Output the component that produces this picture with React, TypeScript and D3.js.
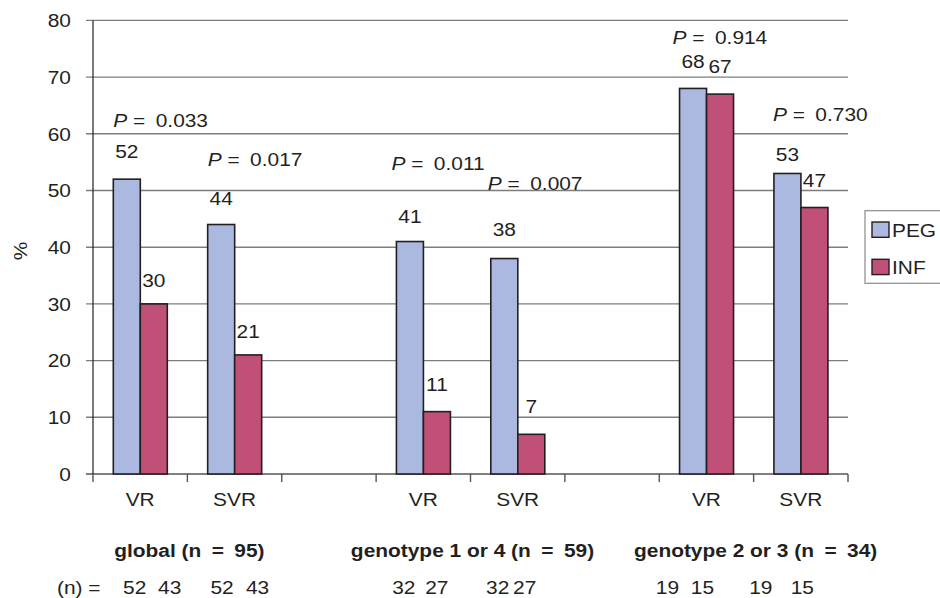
import React from "react";
import * as d3 from "d3";

// ---- data ----
const slots = ["gVR", "gSVR", "gap1", "g14VR", "g14SVR", "gap2", "g23VR", "g23SVR"];
const barSlots = ["gVR", "gSVR", "g14VR", "g14SVR", "g23VR", "g23SVR"];
const slotLabels = ["VR", "SVR", "", "VR", "SVR", "", "VR", "SVR"];
const pegValues = [52, 44, 41, 38, 68, 53];
const infValues = [30, 21, 11, 7, 67, 47];
const pValues = ["0.033", "0.017", "0.011", "0.007", "0.914", "0.730"];
const pLabelLevel = [61.2, 54.4, 53.7, 50.1, 75.9, 62.2];
const groupLabels = ["global (n\u2002=\u200295)", "genotype 1 or 4 (n\u2002=\u200259)", "genotype 2 or 3 (n\u2002=\u200234)"];
const groupSlots = [["gVR", "gSVR"], ["g14VR", "g14SVR"], ["g23VR", "g23SVR"]];
const pegN = [52, 52, 32, 32, 19, 19];
const infN = [43, 43, 27, 27, 15, 15];
const yTicks = [0, 10, 20, 30, 40, 50, 60, 70, 80];
const seriesNames = ["PEG", "INF"];

// ---- layout / style (not data) ----
const W = 940, H = 598;
const X0 = 93, X1 = 848, Y0 = 474, Y1 = 20.4;
const BAR_INSET = 20.3, BAR_W = 27;
const pegGap = [21, 20, 19, 23, 20.7, 12.3];
const infGap = [17, 17, 20.7, 21, 21, 21];
const pDx = [0, 0, -5, -3, -7, -1];
const nPegDx = [-5.5, -12.5, -19.5, -20, -39, -40];
const nInfDx = [29.5, 23, 13.5, 7, -4, 1.5];
const PEG_COLOR = "#abb8df";
const INF_COLOR = "#c05077";
const FONT = "'Liberation Sans', Arial, Helvetica, sans-serif";
const FS = 19;
const SX = 1.1;

function Txt({ x, y, anchor = "start", bold = false, children, size = FS }: any) {
  return (
    <text
      transform={`translate(${x},${y}) scale(${SX},1)`}
      textAnchor={anchor}
      fontFamily={FONT}
      fontSize={size}
      fontWeight={bold ? "bold" : "normal"}
      fill="#231f20"
      style={{ whiteSpace: "pre" }}
    >
      {children}
    </text>
  );
}

export default function App() {
  const x = d3.scaleBand<string>().domain(slots).range([X0, X1]).padding(0);
  const y = d3.scaleLinear().domain([0, 80]).range([Y0, Y1]);
  const bw = x.bandwidth();
  const boundaries = slots.map((s) => x(s) as number).concat([X1]);

  return (
    <svg width={W} height={H} style={{ position: "absolute", left: 0, top: 0, background: "#fff" }}>
      {/* gridlines */}
      {yTicks.map((t) => (
        <g key={t}>
          <line x1={86} x2={X1} y1={y(t)} y2={y(t)} stroke={t === 0 ? "#555" : "#7d7d7d"} strokeWidth={1.4} />
          <Txt x={71} y={y(t) + 6.8} anchor="end">{String(t)}</Txt>
        </g>
      ))}
      {/* y axis line */}
      <line x1={X0} x2={X0} y1={Y1} y2={Y0} stroke="#231f20" strokeWidth={1.2} />
      {/* x ticks */}
      {boundaries.map((b, i) => (
        <line key={i} x1={b} x2={b} y1={Y0} y2={Y0 + 8} stroke="#555" strokeWidth={1.4} />
      ))}
      {/* bars */}
      {barSlots.map((s, i) => {
        const sx = x(s) as number;
        return (
          <g key={s}>
            <rect x={sx + BAR_INSET} y={y(pegValues[i])} width={BAR_W} height={Y0 - y(pegValues[i])} fill={PEG_COLOR} stroke="#231f20" strokeWidth={1.6} />
            <rect x={sx + BAR_INSET + BAR_W} y={y(infValues[i])} width={BAR_W} height={Y0 - y(infValues[i])} fill={INF_COLOR} stroke="#231f20" strokeWidth={1.6} />
          </g>
        );
      })}
      {/* value labels */}
      {barSlots.map((s, i) => {
        const sx = x(s) as number;
        return (
          <g key={"v" + s}>
            <Txt x={sx + BAR_INSET + BAR_W / 2} y={y(pegValues[i]) - pegGap[i]} anchor="middle">{String(pegValues[i])}</Txt>
            <Txt x={sx + BAR_INSET + BAR_W * 1.5} y={y(infValues[i]) - infGap[i]} anchor="middle">{String(infValues[i])}</Txt>
          </g>
        );
      })}
      {/* P labels */}
      {barSlots.map((s, i) => {
        const sx = x(s) as number;
        return (
          <text
            key={"p" + s}
            transform={`translate(${sx + BAR_INSET + pDx[i]},${y(pLabelLevel[i])}) scale(${SX},1)`}
            fontFamily={FONT}
            fontSize={FS}
            fill="#231f20"
            style={{ whiteSpace: "pre" }}
          >
            <tspan fontStyle="italic">P</tspan>
            <tspan>{" =\u2002" + pValues[i]}</tspan>
          </text>
        );
      })}
      {/* category labels */}
      {slots.map((s, i) =>
        slotLabels[i] ? (
          <Txt key={"c" + s} x={(x(s) as number) + bw / 2} y={505.7} anchor="middle">{slotLabels[i]}</Txt>
        ) : null
      )}
      {/* group labels */}
      {groupLabels.map((g, i) => {
        const a = x(groupSlots[i][0]) as number;
        const b = (x(groupSlots[i][1]) as number) + bw;
        return (
          <Txt key={"g" + i} x={(a + b) / 2 + 2} y={556.7} anchor="middle" bold>{g}</Txt>
        );
      })}
      {/* n row */}
      <Txt x={57} y={594}>{"(n) ="}</Txt>
      {barSlots.map((s, i) => {
        const c = (x(s) as number) + bw / 2;
        return (
          <g key={"n" + s}>
            <Txt x={c + nPegDx[i]} y={594} anchor="middle">{String(pegN[i])}</Txt>
            <Txt x={c + nInfDx[i]} y={594} anchor="middle">{String(infN[i])}</Txt>
          </g>
        );
      })}
      {/* y axis title */}
      <text transform="translate(27,251) rotate(-90) scale(1.1,1)" textAnchor="middle" fontFamily={FONT} fontSize={FS} fill="#231f20">%</text>
      {/* legend */}
      <rect x={865} y={210.7} width={85} height={72.6} fill="#fff" stroke="#8a8a8a" strokeWidth={1.2} />
      {seriesNames.map((n, i) => (
        <g key={n}>
          <rect x={872} y={222 + i * 37.3} width={17} height={15.3} fill={i === 0 ? PEG_COLOR : INF_COLOR} stroke="#231f20" strokeWidth={1.4} />
          <Txt x={892} y={236.5 + i * 37} anchor="start">{n}</Txt>
        </g>
      ))}
    </svg>
  );
}
